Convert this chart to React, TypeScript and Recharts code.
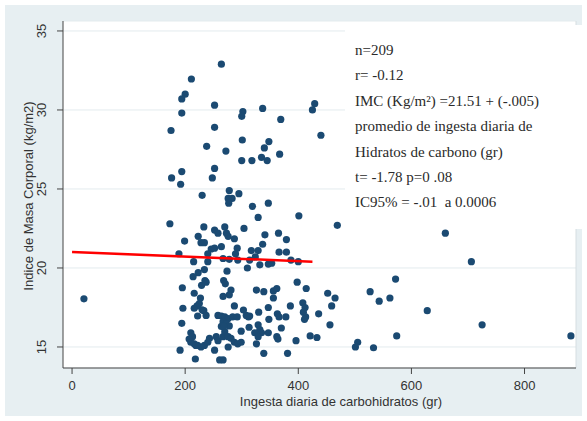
import { ScatterChart, Scatter, XAxis, YAxis, CartesianGrid, ReferenceLine, Label } from "recharts";

// ingesta diaria de carbohidratos (gr) / IMC (kg/m2)
const ingesta = [
  21, 401, 469, 660, 706, 379, 379, 387, 400, 398, 414, 452, 465, 459, 527, 572, 562, 543, 628, 725,
  882, 574, 505, 501, 533, 456, 436, 421, 433, 396, 381, 386, 378, 408, 412, 409, 413, 411,
  264, 211, 200, 194, 194, 252, 175, 252, 302, 300, 337, 369, 429, 425, 440, 238, 272, 301, 348, 340,
  367, 300, 318, 335, 345, 194, 176, 192, 252, 248, 230, 278, 295, 283, 276, 277, 319, 347, 329,
  173, 233, 252, 258, 270, 304, 273, 276, 341, 365, 223, 199, 228, 234, 287, 337, 246, 252, 240, 264,
  292, 289, 317, 329, 366, 189, 215, 240, 267, 278, 293, 314, 324, 347, 353, 332, 310, 234, 223, 214, 274,
  268, 271, 235, 229, 195, 216, 281, 278, 267, 326, 339, 356, 362, 356, 227, 221, 216, 196, 233, 222,
  237, 287, 303, 314, 347, 330, 363, 366, 258, 264, 270, 276, 284, 292, 312, 308, 348, 267, 272, 264, 278, 194,
  299, 313, 329, 332, 323, 335, 347, 370, 362, 364, 210, 213, 207, 210, 216, 222, 228, 234, 243, 255,
  258, 267, 270, 268, 276, 281, 287, 293, 276, 329, 326, 252, 191, 218, 261, 267, 339, 299, 225, 230,
  237, 219, 240,
];

const imc = [
  18.05, 23.3, 22.7, 22.2, 20.4, 21.8, 21.0, 20.5, 20.4, 19.1, 18.7, 18.4, 18.1, 17.6, 18.5, 19.3, 18.1, 17.9, 17.3, 16.4,
  15.7, 15.7, 15.3, 15.0, 14.95, 16.4, 17.1, 15.7, 15.6, 15.4, 14.6, 17.6, 16.9, 17.8, 17.5, 17.2, 16.9, 16.75,
  32.9, 31.96, 31.0, 30.7, 29.8, 30.3, 28.7, 28.9, 29.9, 29.6, 30.1, 29.4, 30.4, 30.0, 28.4, 27.7, 27.4, 28.1, 28.0, 27.6,
  27.2, 26.8, 26.8, 27.0, 26.8, 26.1, 25.7, 25.3, 26.3, 25.7, 24.6, 24.9, 24.7, 24.4, 24.4, 24.1, 23.9, 24.1, 23.2,
  22.8, 22.6, 22.4, 22.2, 22.6, 22.5, 22.2, 22.0, 22.1, 22.2, 22.0, 21.7, 21.6, 21.6, 21.85, 21.5, 21.2, 21.25, 20.9, 21.35,
  21.25, 20.9, 21.1, 21.1, 21.0, 20.9, 20.4, 20.4, 20.6, 20.55, 20.5, 20.5, 20.7, 20.25, 20.3, 20.2, 20.0, 19.9, 19.7, 19.45, 19.8,
  19.2, 19.0, 19.2, 18.9, 18.75, 18.4, 18.6, 18.3, 18.2, 18.6, 18.5, 18.55, 18.7, 18.1, 18.1, 17.6, 17.45, 17.45, 17.3, 16.96,
  17.0, 17.6, 17.34, 16.96, 17.5, 17.2, 17.1, 16.9, 17.0, 16.96, 16.9, 16.8, 16.9, 16.9, 16.9, 17.0, 16.75, 16.6, 16.46, 16.3, 16.33, 16.5,
  16.0, 16.25, 16.4, 16.1, 15.9, 15.9, 15.9, 16.2, 15.65, 15.5, 15.9, 15.65, 15.5, 15.3, 15.2, 15.1, 15.0, 15.1, 15.55, 15.65,
  15.4, 15.65, 15.97, 16.3, 15.65, 15.55, 15.3, 15.2, 15.0, 15.65, 15.2, 14.8, 14.8, 14.24, 14.18, 14.18, 14.6, 15.3, 17.75, 17.35,
  19.1, 15.1, 15.3,
];

// fitted line as drawn
const ajusteX = [0, 425];
const ajusteY = [21.01, 20.4];

const xTicks = [0, 200, 400, 600, 800];
const yTicks = [15, 20, 25, 30, 35];

const anotacion = [
  "n=209",
  "r= -0.12",
  "IMC (Kg/m²) =21.51 + (-.005)",
  "promedio de ingesta diaria de",
  "Hidratos de carbono (gr)",
  "t= -1.78 p=0 .08",
  "IC95% = -.01  a 0.0006",
];

const puntos = ingesta.map((x, i) => ({ x, y: imc[i] }));
const ajuste = ajusteX.map((x, i) => ({ x, y: ajusteY[i] }));

const sans = "'Liberation Sans', Arial, sans-serif";

const Punto = (p: any) => <circle cx={p.cx} cy={p.cy} r={3.6} fill="#1b4a72" />;

const XTick = ({ x, y, payload }: any) => (
  <text x={x} y={y + 14} textAnchor="middle" fontSize={13} fontFamily={sans} fill="#333">
    {payload.value}
  </text>
);

const YTick = ({ x, y, payload }: any) => (
  <g transform={`translate(${x - 14},${y})`}>
    <text transform="rotate(-90)" x={0} y={4.5} textAnchor="middle" fontSize={13} fontFamily={sans} fill="#333">
      {payload.value}
    </text>
  </g>
);

export default function App() {
  return (
    <div style={{ position: "absolute", left: 0, top: 0, width: 587, height: 421, background: "#fff" }}>
      <div style={{ position: "absolute", left: 5, top: 5, width: 577, height: 411, background: "#e7eff2" }} />
      <div style={{ position: "absolute", left: 0, top: 0 }}>
        <ScatterChart width={587} height={421} margin={{ top: 21, right: 11, bottom: 23, left: 23 }}>
          <CartesianGrid vertical={false} fill="#fff" stroke="#e3ebee" />
          <XAxis
            type="number"
            dataKey="x"
            domain={[-16, 891]}
            ticks={xTicks}
            tick={<XTick />}
            tickSize={6}
            height={30}
            stroke="#444"
            allowDataOverflow
          >
            <Label
              content={() => (
                <text x={341} y={406} textAnchor="middle" fontSize={13} fontFamily={sans} fill="#333">
                  Ingesta diaria de carbohidratos (gr)
                </text>
              )}
            />
          </XAxis>
          <YAxis
            type="number"
            dataKey="y"
            domain={[13.67, 35.63]}
            ticks={yTicks}
            tick={<YTick />}
            tickSize={6}
            width={40}
            stroke="#444"
            allowDataOverflow
          >
            <Label
              content={() => (
                <text
                  transform="translate(33,196) rotate(-90)"
                  textAnchor="middle"
                  fontSize={13}
                  fontFamily={sans}
                  fill="#333"
                >
                  Indice de Masa Corporal (kg/m2)
                </text>
              )}
            />
          </YAxis>
          <ReferenceLine x={891} stroke="#d6dee1" />
          <Scatter data={puntos} shape={Punto} isAnimationActive={false} />
          <Scatter
            data={ajuste}
            line={{ stroke: "#ff0000", strokeWidth: 2.5 }}
            shape={() => <g />}
            isAnimationActive={false}
          />
        </ScatterChart>
      </div>
      <div
        style={{
          position: "absolute",
          left: 345,
          top: 25,
          width: 237,
          height: 204,
          background: "#fff",
        }}
      />
      <div
        style={{
          position: "absolute",
          left: 355,
          top: 38,
          fontFamily: "'Liberation Serif', 'Times New Roman', serif",
          fontSize: 15,
          lineHeight: "25.4px",
          color: "#2a2a2a",
          whiteSpace: "pre",
        }}
      >
        {anotacion.map((t) => (
          <div key={t}>{t}</div>
        ))}
      </div>
    </div>
  );
}
